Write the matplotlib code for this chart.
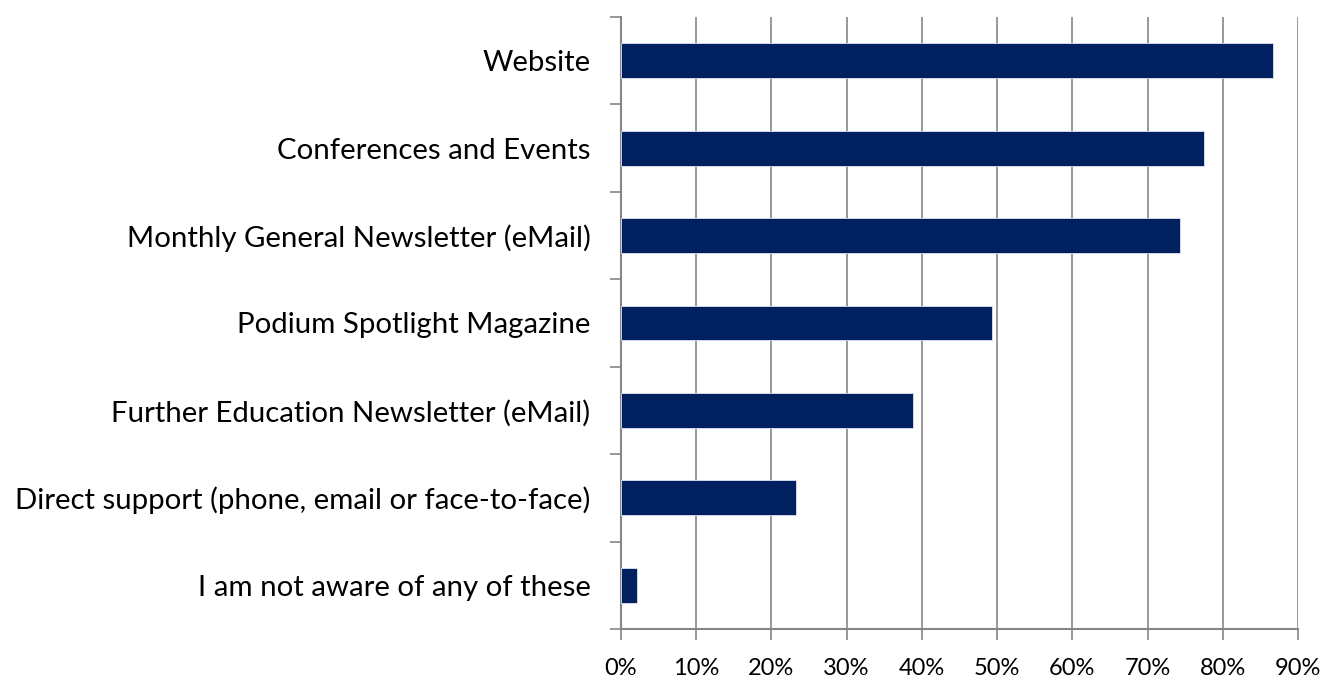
import numpy as np
import matplotlib.pyplot as plt
from matplotlib.ticker import FixedLocator

kategorie = [
    "Website",
    "Conferences and Events",
    "Monthly General Newsletter (eMail)",
    "Podium Spotlight Magazine",
    "Further Education Newsletter (eMail)",
    "Direct support (phone, email or face-to-face)",
    "I am not aware of any of these",
]
hodnoty = [86.7, 77.5, 74.3, 49.3, 38.8, 23.3, 2.1]
xticky = [0, 10, 20, 30, 40, 50, 60, 70, 80, 90]

plt.rcParams["font.family"] = ["Lato", "DejaVu Sans"]

fig = plt.figure(figsize=(13.23, 6.82), dpi=100)
ax = fig.add_axes([621 / 1323, 1 - 629 / 682, 677 / 1323, 612 / 682])

pozice = np.arange(len(kategorie))[::-1]
ax.barh(pozice, hodnoty, height=0.4, color="#002060", edgecolor="#dfe3ef",
        linewidth=0.6, zorder=3)

ax.set_xlim(0, 90)
ax.set_ylim(-0.5, len(kategorie) - 0.5)
ax.set_xticks(xticky)
ax.set_xticklabels([f"{t}%" for t in xticky], fontsize=17)
ax.set_yticks(pozice)
ax.set_yticklabels(kategorie, fontsize=21.2)
ax.yaxis.set_minor_locator(FixedLocator(np.arange(-0.5, len(kategorie), 1)))

ax.tick_params(axis="y", which="major", length=0, pad=22)
ax.tick_params(axis="y", which="minor", length=8, width=1.2, color="#868686")
ax.tick_params(axis="x", length=8, width=1.2, color="#868686", pad=13)

ax.grid(axis="x", color="#868686", linewidth=1.2, zorder=0)
for s in ["top", "right"]:
    ax.spines[s].set_visible(False)
for s in ["left", "bottom"]:
    ax.spines[s].set_color("#868686")
    ax.spines[s].set_linewidth(1.5)

fig.savefig("out.png", dpi=100)
